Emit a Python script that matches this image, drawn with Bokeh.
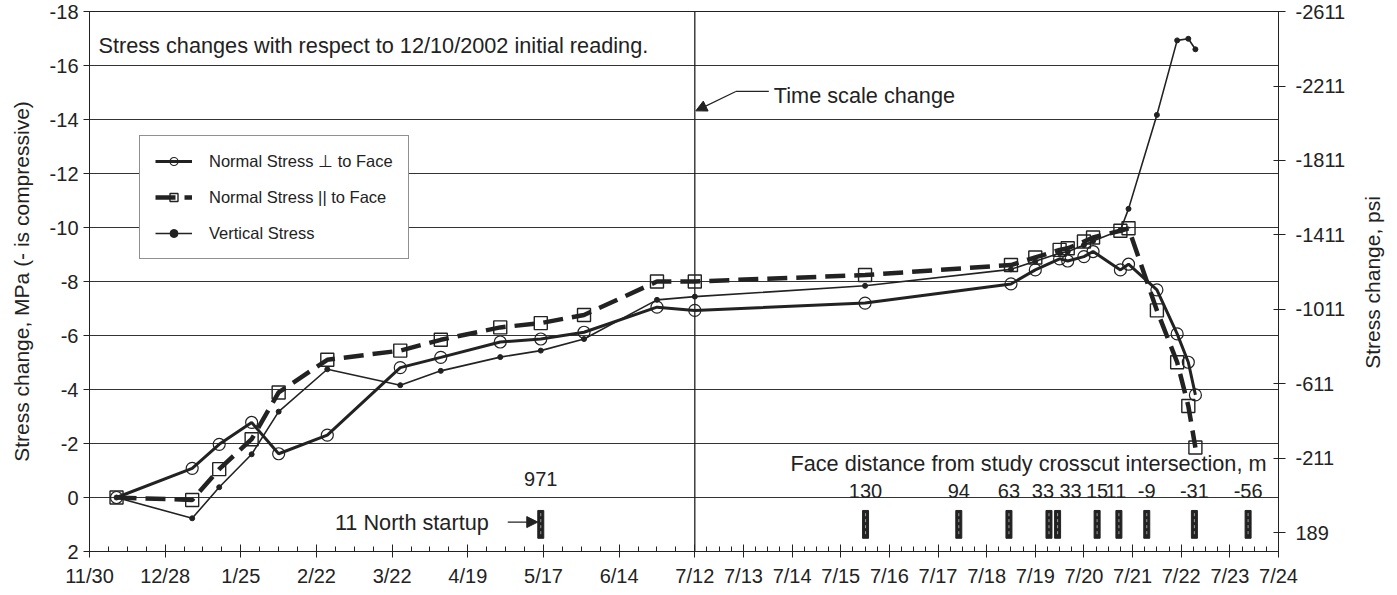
import math
import pandas as pd
from bokeh.plotting import figure
from bokeh.layouts import row
from bokeh.models import (Range1d, LinearAxis, FixedTicker, Span, Label, Arrow,
                          NormalHead, Legend, LegendItem, ColumnDataSource)
from bokeh.core.properties import value
from bokeh.embed import file_html
from bokeh.resources import INLINE

# ---------------- data ----------------
dates = ["2002-12-10", "2003-01-07", "2003-01-17", "2003-01-29", "2003-02-08",
         "2003-02-26", "2003-03-25", "2003-04-09", "2003-05-01", "2003-05-16",
         "2003-06-01", "2003-06-28", "2003-07-12 00:00", "2003-07-15 12:00",
         "2003-07-18 12:00", "2003-07-19 00:00", "2003-07-19 12:00", "2003-07-19 16:00",
         "2003-07-20 00:00", "2003-07-20 04:30", "2003-07-20 18:00", "2003-07-20 22:00",
         "2003-07-21 12:00", "2003-07-21 22:00", "2003-07-22 03:30", "2003-07-22 07:00"]
normal_perp = [0, -1.08, -1.97, -2.78, -1.62, -2.31, -4.81, -5.19, -5.76, -5.87,
               -6.12, -7.05, -6.93, -7.20, -7.91, -8.43, -8.84, -8.76, -8.92, -9.11,
               -8.43, -8.64, -7.69, -6.06, -5.01, -3.80]
normal_par = [0, 0.09, -1.05, -2.16, -3.89, -5.10, -5.44, -5.84, -6.30, -6.46,
              -6.76, -8.00, -8.00, -8.24, -8.61, -8.89, -9.17, -9.23, -9.48, -9.63,
              -9.88, -9.97, -6.93, -5.01, -3.39, -1.85]
vertical = [0, 0.77, -0.38, -1.60, -3.18, -4.75, -4.16, -4.69, -5.20, -5.44,
            -5.87, -7.32, -7.44, -7.84, -8.45, -8.75, -9.05, -9.10, -9.35, -9.50,
            -9.90, -10.69, -14.17, -16.93, -16.99, -16.60]

face_dates = ["2003-07-15 12:15", "2003-07-17 10:15", "2003-07-18 11:00",
              "2003-07-19 06:45", "2003-07-19 11:00", "2003-07-20 06:30",
              "2003-07-20 17:15", "2003-07-21 07:00", "2003-07-22 06:30",
              "2003-07-23 09:00"]
face_labels = ["130", "94", "63", "33", "33", "15", "11", "-9", "-31", "-56"]
startup_date = "2003-05-16"
startup_label = "971"

left_tick_dates = ["2002-11-30", "2002-12-28", "2003-01-25", "2003-02-22", "2003-03-22",
                   "2003-04-19", "2003-05-17", "2003-06-14", "2003-07-12"]
left_tick_labels = ["11/30", "12/28", "1/25", "2/22", "3/22", "4/19", "5/17", "6/14", "7/12"]
right_tick_dates = ["2003-07-%02d" % d for d in range(13, 25)]
right_tick_labels = ["7/%d" % d for d in range(13, 25)]
mpa_ticks = list(range(-18, 3, 2))
mpa_labels = [str(v) for v in mpa_ticks]
psi_ticks = [189, -211, -611, -1011, -1411, -1811, -2211, -2611]
MPA_TO_PSI = 145.038

# ---------------- broken time scale ----------------
T0 = pd.Timestamp("2002-11-30")
TS = pd.Timestamp("2003-07-12")
K = 18.0  # x units per day after the time-scale change
DAY = pd.Timedelta(days=1)


def xpos(d):
    d = pd.Timestamp(d)
    if d <= TS:
        return (d - T0) / DAY
    return (TS - T0) / DAY + (d - TS) / DAY * K


X_END = xpos("2003-07-24")
xs = [xpos(d) for d in dates]
PX = 1189.0 / X_END  # approx px per x unit (for annotation offsets)

FONT = "Liberation Sans"
INK = "#222222"
ANN = "21.7px"
H = 590

p = figure(width=1358, height=H, output_backend="svg", toolbar_location=None,
           x_range=Range1d(0, X_END), y_range=Range1d(2, -18),
           min_border_left=89, min_border_right=80, min_border_top=11,
           min_border_bottom=39)
p.outline_line_color = INK
p.background_fill_color = "white"
p.border_fill_color = "white"

# axes
tick_pos = [int(round(xpos(d))) for d in left_tick_dates + right_tick_dates]
tick_lab = left_tick_labels + right_tick_labels
minor = [float(v) for v in range(0, int(xpos(TS)), 7)] + \
        [xpos(TS) + i * 0.25 * K for i in range(0, 49)]
xax = p.xaxis[0]
xax.ticker = FixedTicker(ticks=tick_pos, minor_ticks=minor)
xax.major_label_overrides = {t: l for t, l in zip(tick_pos, tick_lab)}
xax.major_tick_in = 7
xax.major_tick_out = 6
xax.minor_tick_in = 5
xax.minor_tick_out = 0
xax.major_label_standoff = 7

yax = p.yaxis[0]
yax.ticker = FixedTicker(ticks=mpa_ticks)
yax.major_label_overrides = {t: l for t, l in zip(mpa_ticks, mpa_labels)}
yax.major_tick_in = 0
yax.major_tick_out = 6
yax.minor_tick_line_color = None
yax.axis_label = "Stress change, MPa (- is compressive)"
yax.axis_label_standoff = 14

p.extra_y_ranges = {"psi": Range1d(2 * MPA_TO_PSI, -18 * MPA_TO_PSI - 0.6)}
rax = LinearAxis(y_range_name="psi", ticker=FixedTicker(ticks=psi_ticks))
rax.major_label_overrides = {t: str(t) for t in psi_ticks}
rax.major_tick_in = 5
rax.major_tick_out = 7
rax.major_label_standoff = 10
rax.minor_tick_line_color = None
p.add_layout(rax, "right")

for ax in [xax, yax, rax]:
    ax.major_label_text_font = FONT
    ax.major_label_text_font_size = "20px"
    ax.major_label_text_color = INK
    ax.axis_label_text_font = FONT
    ax.axis_label_text_font_size = "21px"
    ax.axis_label_text_font_style = "normal"
    ax.axis_label_text_color = INK
    ax.axis_line_color = INK
    ax.major_tick_line_color = INK
    ax.minor_tick_line_color = INK if ax is xax else None

p.xgrid.visible = False
p.ygrid.ticker = FixedTicker(ticks=mpa_ticks)
p.ygrid.grid_line_color = "#333333"
p.ygrid.grid_line_width = 1

# time scale change line
p.add_layout(Span(location=xpos(TS), dimension="height", line_color=INK, line_width=1.3))

# series
src = ColumnDataSource(dict(x=xs, perp=normal_perp, par=normal_par, vert=vertical))
l1 = p.line("x", "perp", source=src, line_color=INK, line_width=3)
m1 = p.scatter("x", "perp", source=src, marker="circle", size=12,
               line_color=INK, line_width=1.2, fill_alpha=0)
l2 = p.line("x", "par", source=src, line_color=INK, line_width=4.5, line_dash="20 9")
m2 = p.scatter("x", "par", source=src, marker="square", size=13,
               line_color=INK, line_width=1.4, fill_alpha=0)
l3 = p.line("x", "vert", source=src, line_color=INK, line_width=1.6)
m3 = p.scatter("x", "vert", source=src, marker="circle", size=5,
               line_color=INK, fill_color=INK)

# face position bars
bx = [xpos(d) for d in face_dates] + [xpos(startup_date)]
bar_bottom, bar_top = 1.51, 0.48
p.rect(x=bx, y=[(bar_bottom + bar_top) / 2] * len(bx), width=6,
       height=bar_bottom - bar_top, width_units="screen",
       fill_color=INK, line_color=INK)
p.segment(x0=bx, y0=[bar_top + 0.1] * len(bx), x1=bx, y1=[bar_bottom - 0.1] * len(bx),
          line_color="#9a9a9a", line_width=1, line_dash="3 3")

lab_dx = [0, 0, 0, -6, 13, 0, -3, 0, 0, 0]
p.text(x=[xpos(d) for d in face_dates], y=[-0.25] * len(face_dates), text=face_labels,
       x_offset=lab_dx, text_align="center", text_baseline="middle",
       text_font=value(FONT), text_font_size="20px", text_color=INK)
p.text(x=[xpos(startup_date)], y=[-0.7], text=[startup_label],
       text_align="center", text_baseline="middle",
       text_font=value(FONT), text_font_size="20px", text_color=INK)


def add_label(x, y, text, align="left", x_offset=0):
    p.add_layout(Label(x=x, y=y, text=text, x_offset=x_offset, text_align=align,
                       text_baseline="middle", text_font=FONT,
                       text_font_size=ANN, text_color=INK))


add_label(0, -16.75, "Stress changes with respect to 12/10/2002 initial reading.",
          x_offset=9)
add_label(X_END, -1.27, "Face distance from study crosscut intersection, m",
          align="right", x_offset=-12)
sx = xpos(startup_date)
add_label(sx, 0.91, "11 North startup", align="right", x_offset=-52)
p.add_layout(Arrow(x_start=sx - 33 / PX, y_start=0.91, x_end=sx - 3 / PX, y_end=0.91,
                   line_color=INK, line_width=1.2,
                   end=NormalHead(size=11, fill_color=INK, line_color=INK)))

tsx = xpos(TS)
add_label(tsx, -14.9, "Time scale change", x_offset=79)
p.segment(x0=[tsx + 41 / PX], y0=[-15.04], x1=[tsx + 74 / PX], y1=[-15.04],
          line_color=INK, line_width=1.2)
p.add_layout(Arrow(x_start=tsx + 41 / PX, y_start=-15.04, x_end=tsx + 1 / PX, y_end=-14.32,
                   line_color=INK, line_width=1.2,
                   end=NormalHead(size=11, fill_color=INK, line_color=INK)))

# legend
legend = Legend(items=[
    LegendItem(label="Normal Stress \u22a5 to Face", renderers=[l1, m1]),
    LegendItem(label="Normal Stress || to Face", renderers=[l2, m2]),
    LegendItem(label="Vertical Stress", renderers=[l3, m3]),
], location=(50, 292))
legend.label_text_font = FONT
legend.label_text_font_size = "16.5px"
legend.label_text_color = INK
legend.glyph_width = 37
legend.glyph_height = 20
legend.label_height = 20
legend.label_standoff = 17
legend.spacing = 16
legend.padding = 15
legend.border_line_color = INK
legend.border_line_width = 1.2
legend.background_fill_alpha = 1
p.add_layout(legend)

# right axis title, reading bottom-to-top as in the reference
t = figure(width=28, height=H, output_backend="svg", toolbar_location=None, title=None,
           x_range=Range1d(0, 1), y_range=Range1d(0, H), min_border=0)
t.axis.visible = False
t.grid.visible = False
t.outline_line_color = None
t.text(x=[0.5], y=[294], text=["Stress change, psi"], angle=math.pi / 2,
       text_align="center", text_baseline="middle", text_font=value(FONT),
       text_font_size="21px", text_color=INK)

layout = row(p, t, spacing=0)
open("out.html", "w").write(file_html(layout, INLINE))
